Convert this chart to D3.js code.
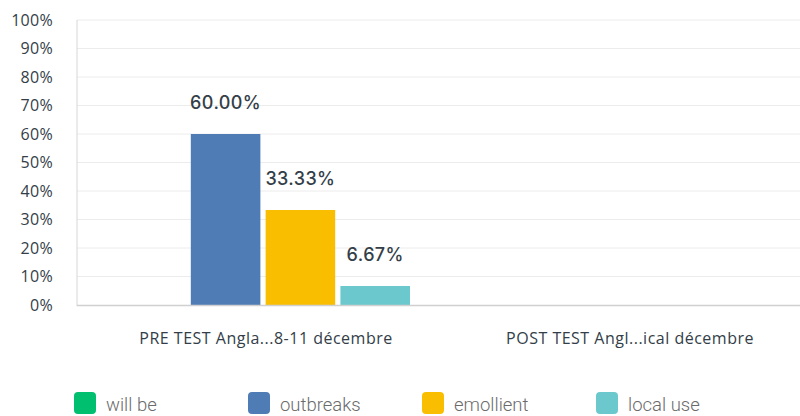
<!DOCTYPE html>
<html>
<head>
<meta charset="utf-8">
<script src="https://cdn.jsdelivr.net/npm/d3@7"></script>
<style>
  html, body { margin: 0; padding: 0; background: #fff; }
  svg { display: block; }
</style>
</head>
<body>
<svg id="chart" width="800" height="416"></svg>
<script>
const categories = ["PRE TEST Angla...8-11 décembre", "POST TEST Angl...ical décembre"];
const seriesNames = ["will be", "outbreaks", "emollient", "local use"];
const seriesColors = ["#00bf6f", "#507cb6", "#f9be00", "#6bc8cd"];
// values per series, one per category (null = no response)
const willBe    = [0, null];
const outbreaks = [60.00, null];
const emollient = [33.33, null];
const localUse  = [6.67, null];
const yTicks = [0, 10, 20, 30, 40, 50, 60, 70, 80, 90, 100];

const seriesValues = [willBe, outbreaks, emollient, localUse];

(function () {
const svg = d3.select("#chart");
const mLeft = 77, mRight = 800, mTop = 20, mBottom = 305;

const y = d3.scaleLinear().domain([0, 100]).range([mBottom, mTop]);
const x0 = d3.scaleBand().domain(categories).range([81, 809]);
const x1 = d3.scaleBand().domain(seriesNames).range([35, x0.bandwidth() - 35]).paddingInner(0.07);

// gridlines
svg.append("g").selectAll("line").data(yTicks.filter(t => t > 0)).join("line")
  .attr("x1", mLeft).attr("x2", mRight)
  .attr("y1", d => y(d)).attr("y2", d => y(d))
  .attr("stroke", "#ececec").attr("stroke-width", 1);

// y axis labels
const yAxis = d3.axisLeft(y).tickValues(yTicks).tickFormat(d => d + "%").tickSize(0).tickPadding(0);
const ya = svg.append("g").attr("transform", `translate(53,0)`).call(yAxis);
ya.select(".domain").remove();
ya.selectAll("text")
  .attr("font-family", "'Open Sans', sans-serif").attr("font-size", 16)
  .attr("fill", "#333e48").attr("letter-spacing", "0.3px");

// bars
const groups = svg.append("g").selectAll("g").data(categories).join("g")
  .attr("transform", d => `translate(${x0(d)},0)`);

groups.each(function(cat, ci) {
  const g = d3.select(this);
  const items = seriesNames.map((s, si) => ({ s, si, v: seriesValues[si][ci] }))
    .filter(d => d.v != null && d.v > 0);
  g.selectAll("rect").data(items).join("rect")
    .attr("x", d => x1(d.s)).attr("width", x1.bandwidth())
    .attr("y", d => y(d.v)).attr("height", d => y(0) - y(d.v))
    .attr("fill", d => seriesColors[d.si]);
  g.selectAll("text").data(items).join("text")
    .attr("x", d => x1(d.s) + x1.bandwidth() / 2)
    .attr("y", d => y(d.v) - 25)
    .attr("text-anchor", "middle")
    .attr("font-family", "Inter, 'Open Sans', sans-serif").attr("font-size", 18).attr("font-weight", 500)
    .attr("letter-spacing", "0.4px")
    .attr("fill", "#333e48")
    .text(d => d.v.toFixed(2) + "%");
});

// axis lines
svg.append("line").attr("x1", mLeft).attr("x2", mLeft).attr("y1", mTop).attr("y2", mBottom + 1)
  .attr("stroke", "#d6d6d6").attr("stroke-width", 1);
svg.append("line").attr("x1", mLeft).attr("x2", mRight).attr("y1", mBottom + 0.5).attr("y2", mBottom + 0.5)
  .attr("stroke", "#d0d0d0").attr("stroke-width", 1.5);

// x labels
const xAxis = d3.axisBottom(x0).tickSize(0).tickPadding(0);
const xa = svg.append("g").attr("transform", `translate(3,${mBottom})`).call(xAxis);
xa.select(".domain").remove();
xa.selectAll("text")
  .attr("y", 39).attr("dy", 0)
  .attr("font-family", "'Open Sans', sans-serif").attr("font-size", 16)
  .attr("fill", "#333e48").attr("letter-spacing", "0.5px");

// legend
const legend = svg.append("g").selectAll("g").data(seriesNames).join("g")
  .attr("transform", (d, i) => `translate(${74 + i * 174},392)`);
legend.append("rect").attr("width", 22).attr("height", 22).attr("rx", 4)
  .attr("fill", (d, i) => seriesColors[i]);
legend.append("text").attr("x", 32).attr("y", 19)
  .attr("font-family", "Roboto, sans-serif").attr("font-weight", 300).attr("font-size", 18.5)
  .attr("fill", "#6b6b6b")
  .text(d => d);
})();
</script>
</body>
</html>
